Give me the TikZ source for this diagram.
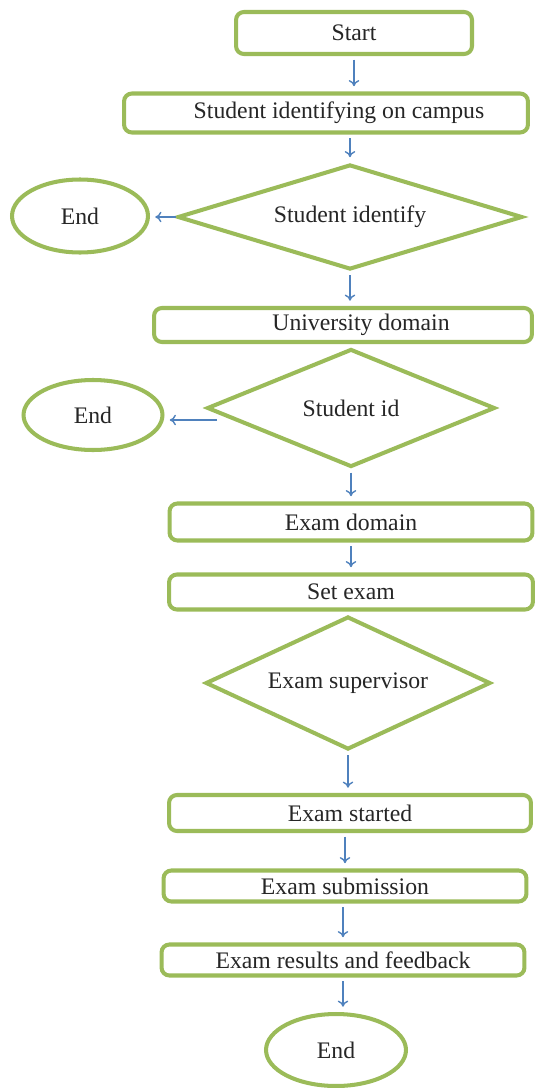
\documentclass[tikz,border=0pt]{standalone}
\usepackage{fontspec}
\setmainfont{Liberation Serif}
\usetikzlibrary{shapes.geometric,arrows.meta,calc}
\definecolor{boxgreen}{RGB}{155,187,89}
\definecolor{arrblue}{RGB}{79,129,189}
\begin{document}
\begin{tikzpicture}[x=0.02cm,y=-0.02cm,
  base/.style={draw=boxgreen,line width=2.3pt,fill=white,inner sep=0pt,
    font=\fontsize{13.5}{15}\selectfont,text=black!85},
  procbox/.style={base,rectangle,rounded corners=4.5pt},
  decbox/.style={base,diamond},
  termbox/.style={base,ellipse},
  arr/.style={draw=arrblue,line width=0.8pt,-{To[length=3.5pt,width=6pt]},
    shorten <=2pt,shorten >=3pt}]
\useasboundingbox (0,0) rectangle (539,1088);
\node[procbox,minimum width=4.72cm,minimum height=0.84cm] (start) at (354,33) {Start};
\node[procbox,minimum width=8.08cm,minimum height=0.78cm] (sic) at (326,113) {\hspace*{0.52cm}Student identifying on campus};
\node[decbox,aspect=3.29,minimum width=6.9cm,minimum height=2.1cm] (d1) at (350,217) {Student identify};
\node[termbox,minimum width=2.72cm,minimum height=1.46cm] (end1) at (80,216) {End};
\node[procbox,minimum width=7.56cm,minimum height=0.68cm] (ud) at (343,325) {\hspace*{0.72cm}University domain};
\node[decbox,aspect=2.42,minimum width=5.76cm,minimum height=2.36cm] (d2) at (351,408) {Student id};
\node[termbox,minimum width=2.78cm,minimum height=1.4cm] (end2) at (93,415) {End};
\node[procbox,minimum width=7.26cm,minimum height=0.74cm] (ed) at (351,522) {Exam domain};
\node[procbox,minimum width=7.28cm,minimum height=0.7cm] (se) at (351,592) {Set exam};
\node[decbox,aspect=2.14,minimum width=5.7cm,minimum height=2.66cm] (d3) at (348,683) {Exam supervisor};
\node[procbox,minimum width=7.24cm,minimum height=0.72cm] (es) at (350,813) {Exam started};
\node[procbox,minimum width=7.26cm,minimum height=0.62cm] (esub) at (345,886) {Exam submission};
\node[procbox,minimum width=7.26cm,minimum height=0.62cm] (erf) at (343,960) {Exam results and feedback};
\node[termbox,minimum width=2.8cm,minimum height=1.44cm] (end3) at (336,1050) {End};

\draw[arr] (start.south) -- (start.south |- sic.north);
\draw[arr] (sic.south -| d1.north) -- (d1.north);
\draw[arr,shorten <=0pt] (d1.west) -- (d1.west -| end1.east);
\draw[arr] (d1.south) -- (d1.south |- ud.north);
\coordinate (d2a) at ($(d2.west)+(12,12)$);
\draw[arr,shorten <=0pt] (d2a) -- (d2a -| end2.east);
\draw[arr] (d2.south) -- (d2.south |- ed.north);
\draw[arr] (ed.south) -- (ed.south |- se.north);
\draw[arr] (d3.south) -- (d3.south |- es.north);
\draw[arr] (es.south -| esub.north) -- (esub.north);
\draw[arr] (esub.south -| erf.north) -- (erf.north);
\draw[arr] (erf.south) -- (erf.south |- end3.north);
\end{tikzpicture}
\end{document}
